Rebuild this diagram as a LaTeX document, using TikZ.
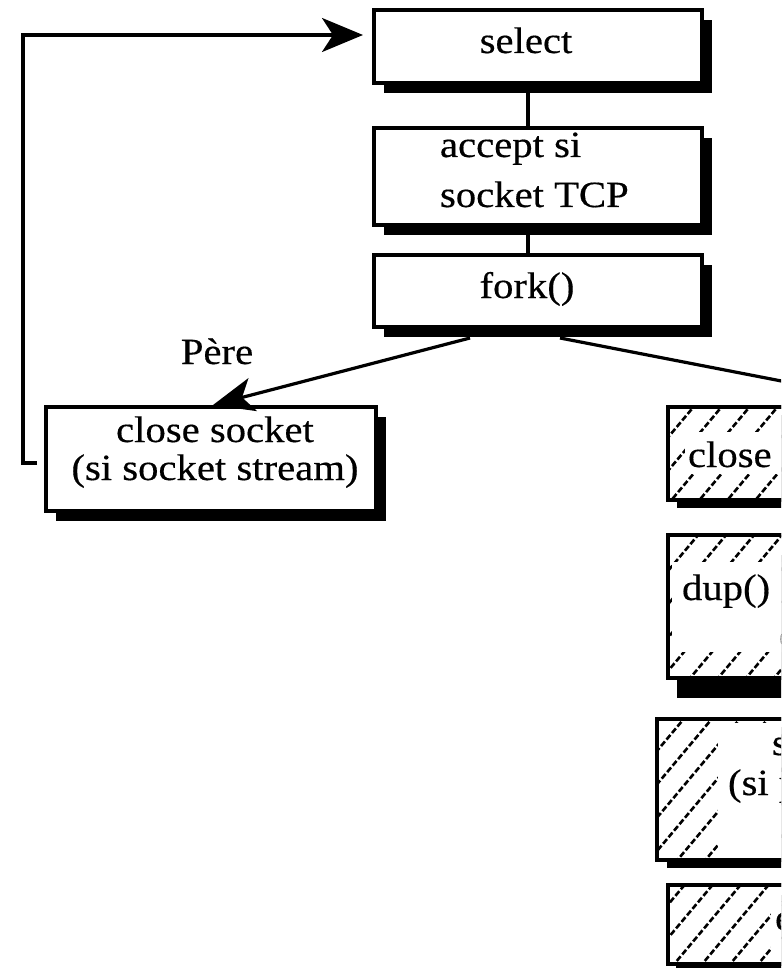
\documentclass[tikz,border=0pt]{standalone}
\usepackage{fontspec}
\setmainfont{Liberation Serif}[FakeStretch=1.1,FakeBold=0.4]
\usetikzlibrary{arrows.meta,calc,shadows}

\tikzset{
  box/.style={draw=black, line width=3.2pt, fill=white, rectangle, inner sep=0pt,
              outer sep=0pt, anchor=north west},
  shadowed/.style 2 args={drop shadow={shadow xshift=#1, shadow yshift=#2,
              fill=black, opacity=1}},
  frame/.style={draw=black, line width=3.2pt},
  txt/.style={inner sep=0pt, outer sep=0pt, font=\fontsize{37}{44}\selectfont},
  link/.style={line width=3.2pt},
  arr/.style={line width=3.2pt, -{Stealth[length=41pt,width=34pt,inset=11pt]}},
  hatch/.style={line width=2.6pt, dash pattern=on 6pt off 2.5pt},
}

% diagonal hatching, clipped by the surrounding scope
\newcommand\hatchlines{%
  \foreach \k in {-25,...,20} {\draw[hatch] (700+28*\k,1000) -- ++(500,-596);}}

\begin{document}
\begin{tikzpicture}[x=1pt,y=-1pt]
\path[use as bounding box] (0,0) rectangle (781,968);
\clip (0,0) rectangle (781,968);

% ---- main loop column ----
\node[box, shadowed={10pt}{-10pt}, minimum width=328pt, minimum height=73pt] (select) at (374,10) {};
\node[box, shadowed={10pt}{-10pt}, minimum width=328pt, minimum height=97pt] (accept) at (374,128) {};
\node[box, shadowed={10pt}{-10pt}, minimum width=328pt, minimum height=72pt] (fork) at (374,255) {};

\node[txt, anchor=base] (tselect) at (526,53) {select};
\node[txt, anchor=base west] (taccept1) at (440,157) {accept si};
\node[txt, anchor=base west] (taccept2) at (440,207) {socket TCP};
\node[txt, anchor=base] (tfork) at (527,298) {fork()};

\draw[link] ($(select.south)+(-10,10)$) -- ($(accept.north)+(-10,0)$);
\draw[link] ($(accept.south)+(-10,9)$) -- ($(fork.north)+(-10,0)$);

% ---- parent branch ----
\node[box, shadowed={10pt}{-10pt}, minimum width=330pt, minimum height=104pt] (close) at (46,407) {};
\node[txt, anchor=base] (tclose1) at (215,442) {close socket};
\node[txt, anchor=base] (tclose2) at (215,480) {(si socket stream)};
\node[txt, anchor=base] (pere) at (217,364) {Père};

% ---- child branch (hatched boxes) ----
\node[box, shadowed={9pt}{-8pt}, minimum width=328pt, minimum height=93pt] (fils1) at (668,407) {};
\begin{scope}
  \clip (fils1.north west) rectangle (fils1.south east);
  \hatchlines
  \fill[white] (685,432) rectangle (1000,474);
\end{scope}
\draw[frame] (fils1.north west) rectangle (fils1.south east);
\node[txt, anchor=base west] (tfils1) at (688,467) {close socket};

\node[box, shadowed={9pt}{-20pt}, minimum width=328pt, minimum height=143pt] (fils2) at (668,535) {};
\begin{scope}
  \clip (fils2.north west) rectangle (fils2.south east);
  \hatchlines
  \fill[white] (672,562) rectangle (1000,652);
\end{scope}
\draw[frame] (fils2.north west) rectangle (fils2.south east);
\node[txt, anchor=base west] (tfils2a) at (682,600) {dup() socket};
\node[txt, anchor=base west] (tfils2b) at (779,648) {(0, 1, 2)};

\node[box, shadowed={10pt}{-8pt}, minimum width=350pt, minimum height=141pt] (fils3) at (657,719) {};
\begin{scope}
  \clip (fils3.north west) rectangle (fils3.south east);
  \hatchlines
  \fill[white] (718,723) rectangle (1010,862);
\end{scope}
\draw[frame] (fils3.north west) rectangle (fils3.south east);
\node[txt, anchor=base west] (tfils3a) at (772,755) {service};
\node[txt, anchor=base west] (tfils3b) at (728,795) {(si pas d'exec)};

\node[box, shadowed={8pt}{-10pt}, minimum width=328pt, minimum height=79pt] (fils4) at (668,885) {};
\begin{scope}
  \clip (fils4.north west) rectangle (fils4.south east);
  \hatchlines
  \fill[white] (771,892) rectangle (1000,966);
\end{scope}
\draw[frame] (fils4.north west) rectangle (fils4.south east);
\node[txt, anchor=base west] (tfils4) at (775,930) {exec};

% ---- connectors out of fork() and back to select ----
\draw[arr] ($(fork.south)+(-68,11)$) -- ($(close.north)+(2,-2)$);
\draw[arr] ($(fork.south)+(22,11)$) -- ($(fils1.north)+(73,-2)$);
\draw[arr] ($(close.west)+(-9,4)$) -- ++(-14,0) |- ($(select.west)+(-11,-11.5)$);
\end{tikzpicture}
\end{document}
